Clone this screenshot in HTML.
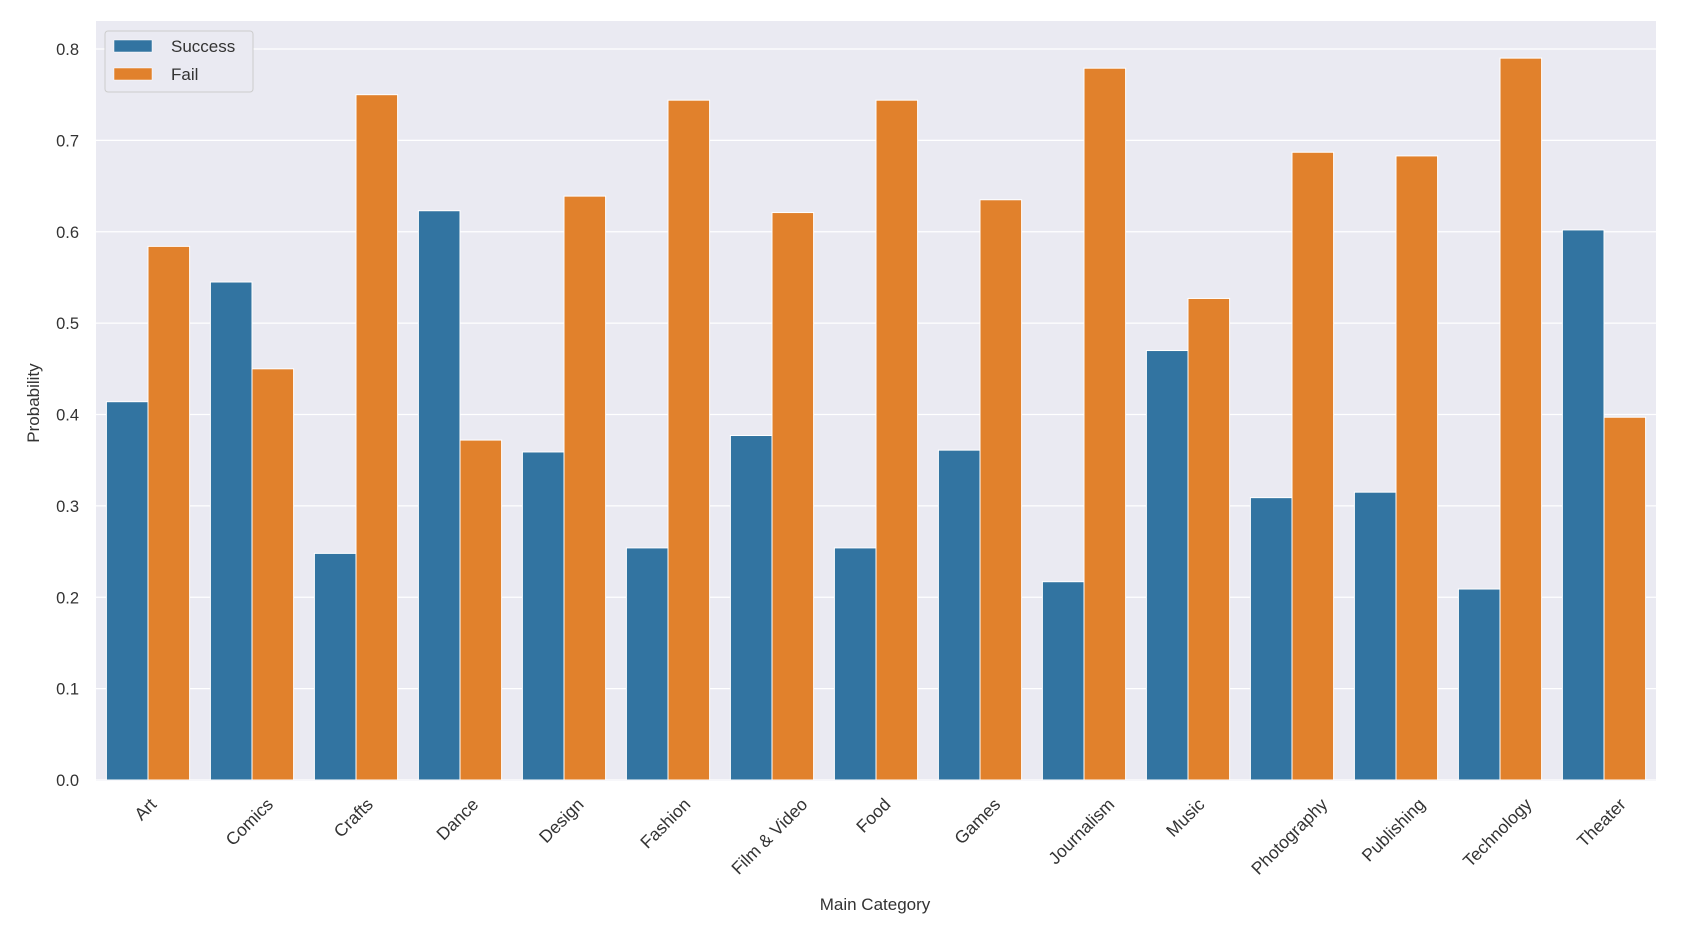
<!DOCTYPE html>
<html><head><meta charset="utf-8"><style>
body{margin:0;background:#fff;}
svg{display:block;font-family:"Liberation Sans",Arial,sans-serif;}
</style></head><body>
<svg id="chart" width="1700" height="930">
<rect x="96" y="21" width="1560" height="760" fill="#eaeaf2"/>
<g id="grid"></g><g id="bars"></g><g id="yticks"></g><g id="xticks"></g>
<text x="875" y="910" text-anchor="middle" font-size="17" fill="#333">Main Category</text>
<text transform="translate(39,403) rotate(-90)" text-anchor="middle" font-size="17" fill="#333">Probability</text>
<g>
<rect x="105" y="31" width="148" height="61" rx="3" fill="#eaeaf2" stroke="#cccccc" stroke-width="1"/>
<rect x="114" y="40" width="38" height="12" fill="#3274a1" stroke="#fff" stroke-width="0.5"/>
<text x="171" y="52" font-size="17" fill="#333">Success</text>
<rect x="114" y="68" width="38" height="12" fill="#e1812c" stroke="#fff" stroke-width="0.5"/>
<text x="171" y="80" font-size="17" fill="#333">Fail</text>
</g>
</svg>
<script>
const categories=["Art","Comics","Crafts","Dance","Design","Fashion","Film & Video","Food","Games","Journalism","Music","Photography","Publishing","Technology","Theater"];
const successValues=[0.414,0.545,0.248,0.623,0.359,0.254,0.377,0.254,0.361,0.217,0.470,0.309,0.315,0.209,0.602];
const failValues=[0.584,0.450,0.750,0.372,0.639,0.744,0.621,0.744,0.635,0.779,0.527,0.687,0.683,0.790,0.397];
const yTicks=[0,0.1,0.2,0.3,0.4,0.5,0.6,0.7,0.8];
const NS="http://www.w3.org/2000/svg";
const L=96,R=1656,B=780,T=21;
const y=v=>B-v*(B-49)/0.8;
const step=(R-L)/categories.length;
const xc=i=>L+step*(i+0.5);
function mk(tag,attrs,parent){const e=document.createElementNS(NS,tag);for(const k in attrs)e.setAttribute(k,attrs[k]);parent.appendChild(e);return e;}
const grid=document.getElementById('grid'),yt=document.getElementById('yticks'),bars=document.getElementById('bars'),xt=document.getElementById('xticks');
yTicks.forEach(v=>{
  const l=mk('line',{x1:L,x2:R,y1:y(v),y2:y(v),stroke:'#fff','stroke-width':1.2},grid);
  
  
  const t=mk('text',{x:79,y:y(v)+6,'text-anchor':'end','font-size':16.5,fill:'#333'},yt);
  t.textContent=v.toFixed(1);
  
  
});
const bw=step*0.4;
categories.forEach((c,i)=>{
  const s=mk('rect',{x:xc(i)-bw,y:y(successValues[i]),width:bw,height:B-y(successValues[i]),fill:'#3274a1',stroke:'#fff','stroke-width':1},bars);
  
  
  const f=mk('rect',{x:xc(i),y:y(failValues[i]),width:bw,height:B-y(failValues[i]),fill:'#e1812c',stroke:'#fff','stroke-width':1},bars);
  
  
  const t=mk('text',{'text-anchor':'middle','font-size':17.5,fill:'#333'},xt);
  t.textContent=c;
  
  
  const len=t.getComputedTextLength();
  const cy=796+len*0.707/2+6;
  t.setAttribute('transform','translate('+(xc(i)-2)+','+cy+') rotate(-45)');
  t.setAttribute('dy','5');
});
</script>
</body></html>
